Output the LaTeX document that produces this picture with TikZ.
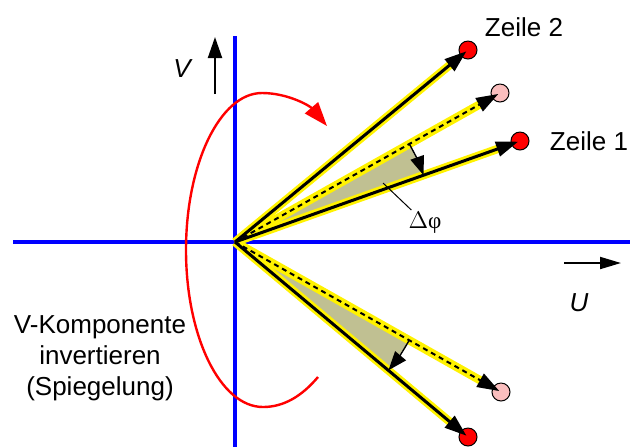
\documentclass[tikz,border=0pt]{standalone}
\usepackage{fontspec}
\setmainfont{Liberation Sans}
\newfontfamily\timesfont{Liberation Serif}
\usetikzlibrary{arrows.meta}

\begin{document}
\begin{tikzpicture}[x=0.5pt,y=0.5pt]

\tikzset{axis/.style={blue,line width=1.8pt}}
\tikzset{glow/.style={yellow,line width=4.2pt,shorten >=10pt}}
\tikzset{vec/.style={black,line width=1.5pt,-{Triangle[length=11pt,width=7.5pt]},shorten >=1pt}}
\tikzset{refvec/.style={black,line width=1pt,dash pattern=on 2.5pt off 2pt,-{Triangle[length=11pt,width=7.5pt]},shorten >=1pt}}
\tikzset{dot/.style={circle,draw=black,line width=0.5pt,minimum size=9pt,inner sep=0pt}}
\tikzset{wedge/.style={fill={rgb,255:red,192;green,192;blue,146}}}
\tikzset{turn/.style={black,line width=0.7pt,-{Triangle[length=9.5pt,width=7pt]}}}
\tikzset{lbl/.style={font=\fontsize{13}{15.5}\selectfont,inner sep=1pt}}

\useasboundingbox (0,0) rectangle (633,-447);

\coordinate (O) at (235,-242);

% grey angle wedges
\fill[wedge] (O) -- +(29.4:200) -- +(19.5:200) -- cycle;
\fill[wedge] (O) -- +(-29.6:200) -- +(-39.9:200) -- cycle;

% axes
\draw[axis] (13,-242) -- (630,-242);
\draw[axis] (235,-36) -- (235,-447);

% mirror curve
\draw[red,line width=1.2pt,-{Triangle[length=12pt,width=8.5pt]}]
    (318,-377) .. controls (302,-396) and (284,-407) .. (263,-407)
    .. controls (220,-407) and (186,-336) .. (186,-250)
    .. controls (186,-164) and (220,-93) .. (262,-93)
    .. controls (288,-93) and (310,-106) .. (327,-126);

% end points
\node[dot,fill=red] (z2) at (468,-50) {};
\node[dot,fill={rgb,255:red,250;green,190;blue,190}] (p1) at (500,-93) {};
\node[dot,fill=red] (z1) at (520,-141) {};
\node[dot,fill={rgb,255:red,250;green,190;blue,190}] (p2) at (501,-392) {};
\node[dot,fill=red] (z3) at (468,-437) {};

% yellow marks
\foreach \e in {z2,p1,z1,p2,z3}
{
    \draw[glow] (O) -- (\e.center);
}

% vectors
\draw[vec] (O) -- (z2.center);
\draw[refvec] (O) -- (p1.center);
\draw[vec] (O) -- (z1.center);
\draw[refvec] (O) -- (p2.center);
\draw[vec] (O) -- (z3.center);

% turning arrows
\draw[turn] (O) ++(29.4:200) arc[start angle=29.4,end angle=19.5,radius=200];
\draw[turn] (O) ++(-29.6:200) arc[start angle=-29.6,end angle=-39.9,radius=200];

% axis arrows
\coordinate (v0) at (215,-94);
\coordinate (v1) at (215,-37);
\draw[line width=1pt,-{Triangle[length=10.5pt,width=7pt]}] (v0) -- (v1);
\coordinate (u0) at (564,-263);
\coordinate (u1) at (621,-263);
\draw[line width=1pt,-{Triangle[length=10.5pt,width=6pt]}] (u0) -- (u1);

% labels
\node[lbl] (lv) at (182,-69) {\itshape V};
\node[lbl] (lu) at (579,-303) {\itshape U};
\node[lbl] (l2) at (524,-27) {Zeile 2};
\node[lbl] (l1) at (589,-141) {Zeile 1};
\node[lbl,align=center] (lm) at (100,-358) {V-Komponente\\invertieren\\(Spiegelung)};

\node[font=\timesfont\fontsize{11.5}{13}\selectfont,inner sep=1pt] (dphi) at (425,-223) {$\Delta$φ};
\coordinate (dtip) at (383,-183);
\draw[line width=0.5pt] (dphi) -- (dtip);

\end{tikzpicture}
\end{document}
